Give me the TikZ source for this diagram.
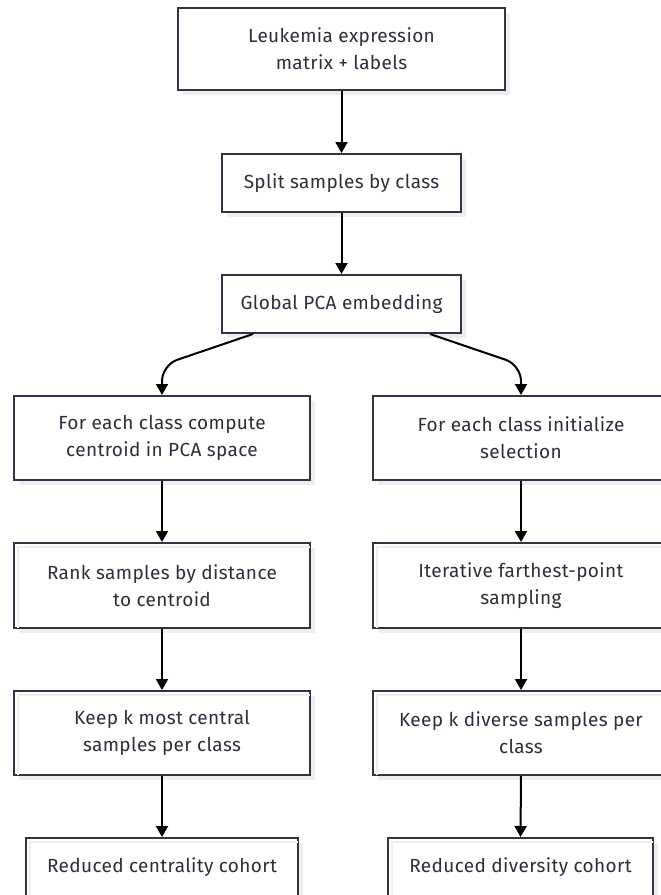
\documentclass[tikz,border=0pt]{standalone}
\usepackage{fontspec}
\setmainfont{Fira Sans}[LetterSpace=2]
\usetikzlibrary{arrows.meta,shadows}
\definecolor{edge}{HTML}{333344}
\definecolor{ink}{HTML}{2E2E3E}
\definecolor{shadowgray}{HTML}{EEEEEE}

\tikzset{
  box/.style={draw=edge, line width=2pt, fill=white, align=center, text=ink,
    font=\fontsize{19}{27}\selectfont, inner sep=0pt,
    drop shadow={shadow xshift=5pt, shadow yshift=-5pt, fill=shadowgray, opacity=1}},
  flow/.style={line width=2pt, draw=black, -{Triangle[length=11pt,width=12pt]}},
  inneredge/.style={draw=shadowgray, line width=1.5pt},
}

\begin{document}
\begin{tikzpicture}[x=1pt, y=-1pt]
  \useasboundingbox (0,0) rectangle (661,895);
  \clip (0,0) rectangle (661,895);
  \fill[white] (0,0) rectangle (661,895);

  % shared trunk
  \node[box, minimum width=327pt, minimum height=82pt] (top) at (341.5,49)
    {Leukemia expression\\matrix + labels};
  \node[box, minimum width=239pt, minimum height=58pt] (split) at (341.5,183)
    {Split samples by class};
  \node[box, minimum width=239pt, minimum height=58pt] (glob) at (341.5,304)
    {Global PCA embedding};

  % centrality branch
  \node[box, minimum width=296pt, minimum height=84pt] (L1) at (162,438)
    {For each class compute\\centroid in PCA space};
  \node[box, minimum width=296pt, minimum height=85pt] (L2) at (162,585.5)
    {Rank samples by distance\\to centroid};
  \node[box, minimum width=296pt, minimum height=84pt] (L3) at (162,733)
    {Keep k most central\\samples per class};
  \node[box, minimum width=272pt, minimum height=59pt] (L4) at (162,867.5)
    {Reduced centrality cohort};

  % diversity branch
  \node[box, minimum width=296pt, minimum height=84pt] (R1) at (521,438)
    {For each class initialize\\selection};
  \node[box, minimum width=296pt, minimum height=85pt] (R2) at (521,585.5)
    {Iterative farthest-point\\sampling};
  \node[box, minimum width=296pt, minimum height=84pt] (R3) at (521,733)
    {Keep k diverse samples per\\class};
  \node[box, minimum width=265pt, minimum height=59pt] (R4) at (520.5,867.5)
    {Reduced diversity cohort};

  % faint inner shadow edge on the lower boxes
  \foreach \n in {L2,R2,L3,R3,L4,R4}
    \draw[inneredge]
      ([shift={(5,-1.5)}]\n.south west) |- ([shift={(-1.5,5)}]\n.north east);

  % connectors
  \draw[flow] (top.south) -- (split.north);
  \draw[flow] (split.south) -- (glob.north);
  \draw[flow, rounded corners=16pt]
    ([xshift=-88.5pt]glob.south) -- ([yshift=30pt]L1.north) -- (L1.north);
  \draw[flow, rounded corners=16pt]
    ([xshift=88.5pt]glob.south) -- ([yshift=30pt]R1.north) -- (R1.north);
  \draw[flow] (L1.south) -- (L2.north);
  \draw[flow] (L2.south) -- (L3.north);
  \draw[flow] (L3.south) -- (L4.north);
  \draw[flow] (R1.south) -- (R2.north);
  \draw[flow] (R2.south) -- (R3.north);
  \draw[flow] (R3.south) -- (R4.north);
\end{tikzpicture}
\end{document}
